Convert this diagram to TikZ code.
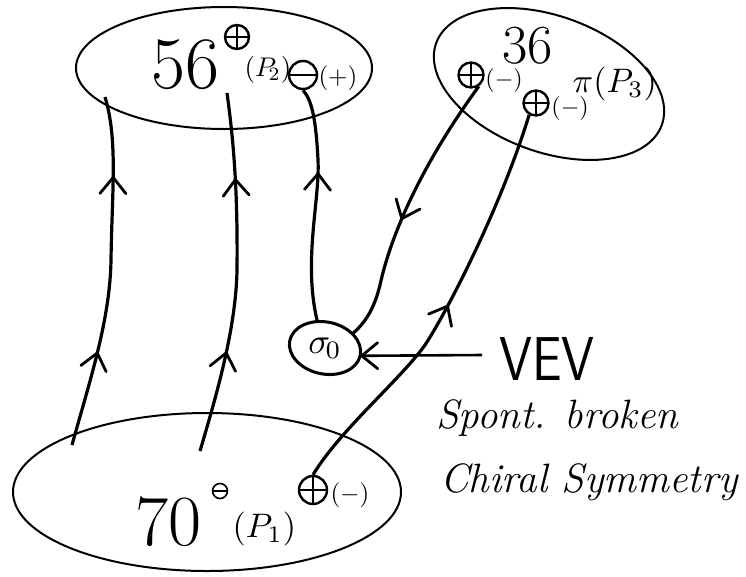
\documentclass[tikz,border=0pt]{standalone}
\usetikzlibrary{decorations.markings,shapes.geometric}
\tikzset{
  blob/.style={ellipse, draw, line width=2pt, inner sep=0pt},
  pm/.style={circle, draw, line width=2.4pt, minimum size=#1, inner sep=0pt,
    path picture={\draw[line width=2.4pt] (path picture bounding box.north) -- (path picture bounding box.south)
      (path picture bounding box.west) -- (path picture bounding box.east);}},
  mm/.style={circle, draw, line width=2.4pt, minimum size=#1, inner sep=0pt,
    path picture={\draw[line width=2.4pt] (path picture bounding box.west) -- (path picture bounding box.east);}},
  quark/.style={line width=3.2pt},
  chev/.style={line width=2.8pt, line cap=round, line join=round},
  arrat/.style={postaction={decorate}, decoration={markings, mark=at position #1 with
     {\draw[chev] (-16pt,-13pt) -- (0pt,0pt) -- (-16pt,13pt);}}},
  arrtwo/.style 2 args={postaction={decorate}, decoration={markings,
     mark=at position #1 with {\draw[chev] (-16pt,-13pt) -- (0pt,0pt) -- (-16pt,13pt);},
     mark=at position #2 with {\draw[chev] (-16pt,-13pt) -- (0pt,0pt) -- (-16pt,13pt);}}},
  lbl/.style={inner sep=0pt, anchor=base west},
  mth/.style={inner sep=0pt, anchor=base west, scale=#1, transform shape},
}
\newcommand{\fs}[1]{\fontsize{#1}{#1}\selectfont}
\begin{document}
\begin{tikzpicture}[x=1pt,y=-1pt]
\useasboundingbox (0,0) rectangle (746,576);
% containers
\node[blob, minimum width=296pt, minimum height=122pt] (e56) at (224,68) {};
\node[blob, minimum width=240pt, minimum height=136pt, rotate=-20] (e36) at (549,84) {};
\node[blob, minimum width=388pt, minimum height=158pt] (e70) at (207,492) {};
\node[ellipse, draw, line width=3pt, minimum width=72pt, minimum height=52pt, inner sep=0pt, rotate=-12] (sig) at (325,348) {};
\node[inner sep=0pt, scale=3.6, transform shape] (sigt) at (sig.center) {$\sigma_{\mkern-2mu 0}$};
% labels of 56
\node[lbl] (t56) at (151,88) {\fs{74}56};
\node[pm=24pt] (s56) at (237,37) {};
\node[mth=2.7] (p2) at (244,76) {$(P_{\!2})$};
\node[mm=28pt] (om) at (303,75) {};
\node[mth=2.5] (plus) at (318,84) {$(+)$};
% labels of 36
\node[lbl] (t36) at (502,63) {\fs{55}36};
\node[pm=25pt] (pa) at (471,75) {};
\node[mth=2.4] (ma) at (485,86) {$(-)$};
\node[pm=25pt] (pb) at (536,103) {};
\node[mth=2.4] (mb) at (551,114) {$(-)$};
\node[mth=3.4] (pi3) at (572,92) {$\pi(P_3)$};
% labels of 70
\node[lbl] (t70) at (135,545) {\fs{72}70};
\node[mm=15pt, line width=1.6pt] (s70) at (220,491) {};
\node[mth=3.4] (p1) at (232,537) {$(P_1)$};
\node[pm=28pt] (q) at (313,490) {};
\node[mth=2.5] (mq) at (330,501) {$(-)$};
% text on the right
\node[lbl, xscale=0.85, transform shape] (vev) at (499,380) {\fs{62}\sffamily VEV};
\node[lbl] (sp) at (436,428) {\fs{41}\itshape Spont. broken};
\node[lbl] (ch) at (440,492) {\fs{41}\itshape Chiral Symmetry};
% free ends
\coordinate (a1) at (72,445);
\coordinate (b1) at (105,97);
\coordinate (a2) at (200,451);
\coordinate (b2) at (227,93);
\coordinate (vevs) at (482,355);
% quark lines
\draw[quark, arrtwo={0.27}{0.77}] (a1) .. controls (90,380) and (110,320) .. (111,260)
   .. controls (112,190) and (118,140) .. (b1);
\draw[quark, arrtwo={0.28}{0.76}] (a2) .. controls (215,400) and (236,330) .. (237,270)
   .. controls (238,180) and (232,130) .. (b2);
\draw[quark, arrat=0.63] (sig.118) .. controls (303,260) and (320,200) .. (318,160)
   .. controls (316,120) and (312,100) .. (om.south);
\draw[quark, arrat=0.55] (pa.-55) .. controls (425,160) and (392,230) .. (380,285)
   .. controls (375,305) and (368,320) .. (sig.40);
\draw[quark, arrat=0.51] (q.north) .. controls (340,430) and (400,380) .. (425,345)
   .. controls (445,315) and (500,210) .. (pb.-120);
% VEV arrow
\draw[line width=2.6pt, arrat=1] (vevs) -- (sig.east);
\end{tikzpicture}
\end{document}
